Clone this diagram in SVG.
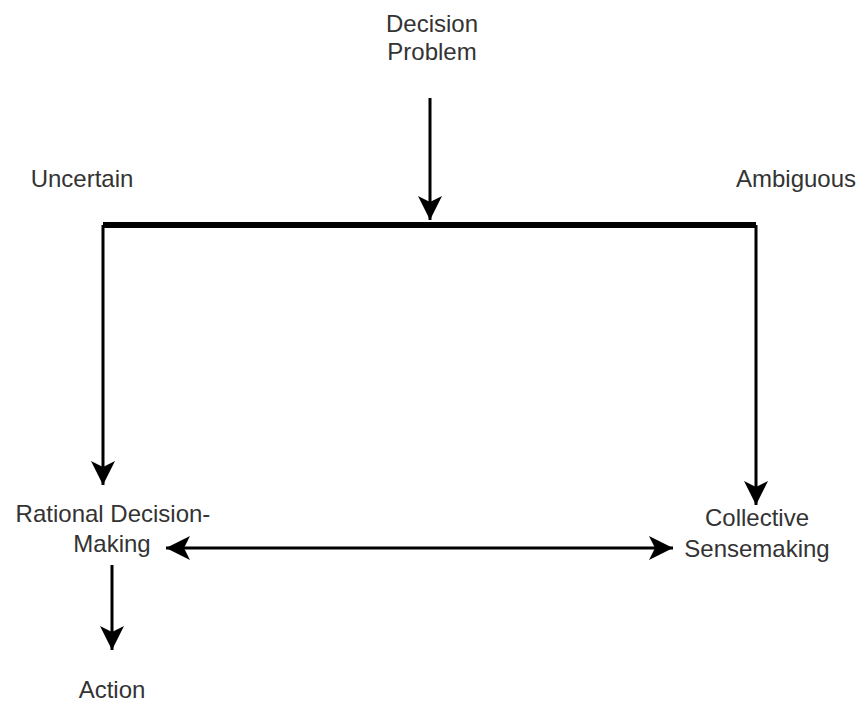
<svg xmlns="http://www.w3.org/2000/svg" width="862" height="706" viewBox="0 0 862 706">
<style>
text{font-family:"Liberation Sans",Arial,sans-serif;font-size:24px;fill:#333;text-anchor:middle}
.c{stroke:#000;stroke-width:3;fill:none}
.bar{stroke:#000;stroke-width:6;fill:none}
</style>
<defs>
<marker id="ah" markerUnits="userSpaceOnUse" markerWidth="30" markerHeight="30" viewBox="0 0 30 30" refX="26" refY="15" orient="auto-start-reverse">
<path d="M26,15 L2,3 L8,15 L2,27 Z" fill="#000"/>
</marker>
</defs>
<rect width="862" height="706" fill="#fff"/>
<g id="connectors">
<path class="c" d="M430,98 L430,220" marker-end="url(#ah)"/>
<path class="bar" d="M103,225 L756,225"/>
<path class="c" d="M103,225 L103,485" marker-end="url(#ah)"/>
<path class="c" d="M756,225 L756,505" marker-end="url(#ah)"/>
<path class="c" d="M166,548 L673,548" marker-start="url(#ah)" marker-end="url(#ah)"/>
<path class="c" d="M112,565 L112,650" marker-end="url(#ah)"/>
</g>
<g id="decision-problem"><text x="432" y="32">Decision</text><text x="432" y="60">Problem</text></g>
<g id="uncertain"><text x="82" y="187">Uncertain</text></g>
<g id="ambiguous"><text x="796" y="187">Ambiguous</text></g>
<g id="rational"><text x="113" y="522">Rational Decision-</text><text x="112" y="552">Making</text></g>
<g id="collective"><text x="757" y="526">Collective</text><text x="757" y="557">Sensemaking</text></g>
<g id="action"><text x="112" y="698">Action</text></g>
</svg>
